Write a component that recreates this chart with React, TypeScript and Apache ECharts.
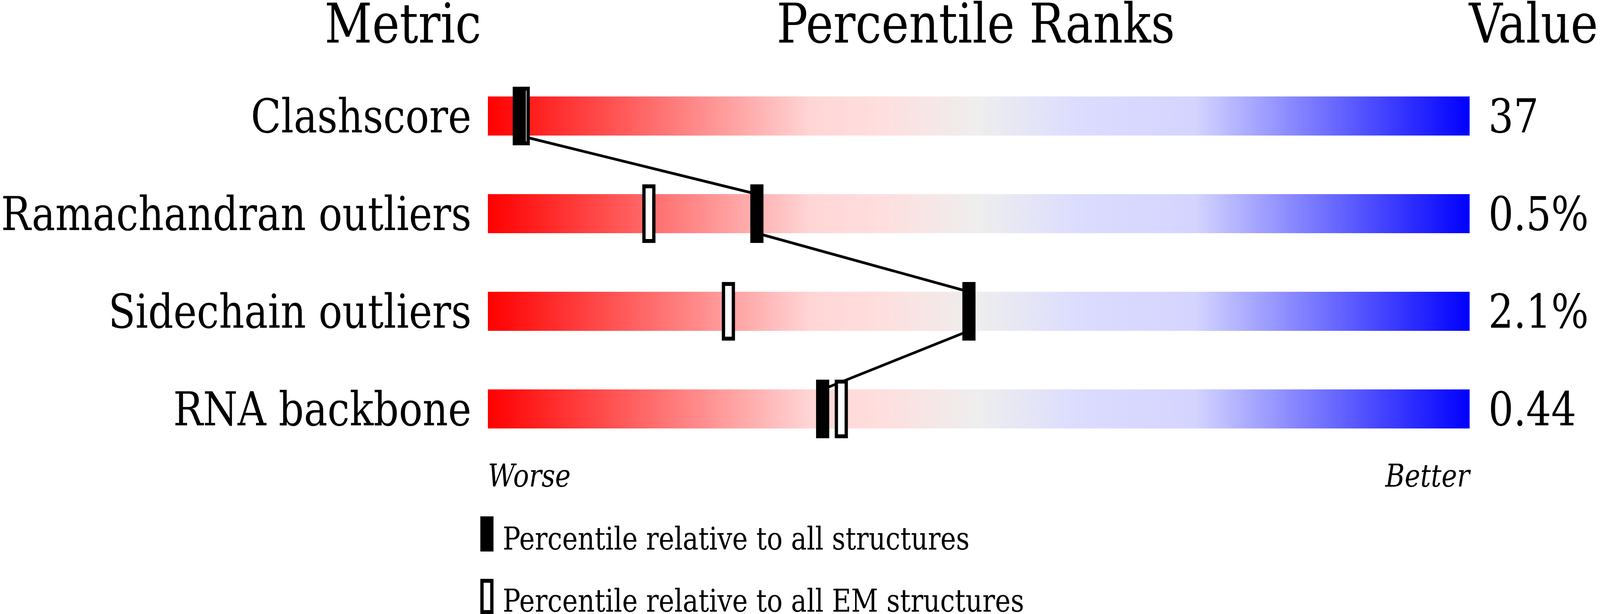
import { useEffect, useRef, useState } from 'react'
import * as echarts from 'echarts'

const metrics = ['Clashscore', 'Ramachandran outliers', 'Sidechain outliers', 'RNA backbone']
const values = ['37', '0.5%', '2.1%', '0.44']
// percentile ranks (0 = worse, 100 = better)
const allPercentiles = [3.2, 27.4, 49.0, 34.1]
const emPercentiles = [3.6, 16.4, 24.5, 36.0]
const legendLabels = ['Percentile relative to all structures', 'Percentile relative to all EM structures']

const FONT = "'DejaVu Serif', serif"

const gradientStops = [
  { offset: 0, color: '#ff0000' },
  { offset: 0.33, color: '#ffd6d6' },
  { offset: 0.4, color: '#ffdede' },
  { offset: 0.5, color: '#eeeeee' },
  { offset: 0.6, color: '#dcdcff' },
  { offset: 0.72, color: '#d4d4ff' },
  { offset: 1, color: '#0000ff' },
]

// the chart is laid out on a 4860 x 1572 canvas and fitted to the window
const BASE_W = 4860
const BASE_H = 1572

export default function App() {
  const chartRef = useRef<HTMLDivElement>(null)
  const [fit, setFit] = useState({ x: window.innerWidth / BASE_W, y: window.innerHeight / BASE_H })

  useEffect(() => {
    const onResize = () => setFit({ x: window.innerWidth / BASE_W, y: window.innerHeight / BASE_H })
    window.addEventListener('resize', onResize)
    return () => window.removeEventListener('resize', onResize)
  }, [])

  useEffect(() => {
    if (!chartRef.current) return
    const chart = echarts.init(chartRef.current, null, { renderer: 'svg' })

    const markerItem = (filled: boolean) => (params: any, api: any) => {
      const c = api.coord([api.value(0), api.value(1)])
      const h = api.size([0, 1])[1] * 0.6
      if (filled) {
        return {
          type: 'rect',
          shape: { x: c[0] - 20, y: c[1] - h / 2, width: 40, height: h },
          style: { fill: '#000' },
        }
      }
      return {
        type: 'rect',
        shape: { x: c[0] - 15, y: c[1] - h / 2 + 5, width: 30, height: h - 10 },
        style: { fill: '#fff', stroke: '#000', lineWidth: 10 },
      }
    }

    const connectors = allPercentiles.slice(0, -1).map((p, i) => [p, i, allPercentiles[i + 1], i + 1])

    const headerStyle = (text: string, align: string) => ({
      text,
      font: `141px ${FONT}`,
      lineHeight: 120,
      fill: '#000',
      textAlign: align,
      textVerticalAlign: 'top',
    })
    const legendStyle = (text: string) => ({
      text,
      font: `80px ${FONT}`,
      fill: '#000',
      textAlign: 'left',
      textVerticalAlign: 'middle',
    })

    const option = {
      animation: false,
      textStyle: { fontFamily: FONT },
      grid: { left: 1464, right: 396, top: 172, bottom: 400 },
      xAxis: {
        type: 'value',
        min: 0,
        max: 100,
        interval: 100,
        splitLine: { show: false },
        axisLine: { show: false },
        axisTick: { show: false },
        axisLabel: {
          formatter: (v: number) => (v === 0 ? 'Worse' : 'Better'),
          fontFamily: FONT,
          fontStyle: 'italic',
          fontSize: 80,
          color: '#000',
          margin: 46,
          verticalAlign: 'middle',
          alignMinLabel: 'left',
          alignMaxLabel: 'right',
        },
      },
      yAxis: [
        {
          type: 'category',
          inverse: true,
          data: metrics,
          axisLine: { show: false },
          axisTick: { show: false },
          axisLabel: {
            fontFamily: FONT,
            fontSize: 120,
            color: '#000',
            margin: 50,
            verticalAlign: 'middle',
            padding: [24, 0, 0, 0],
          },
        },
        {
          type: 'category',
          inverse: true,
          position: 'right',
          data: values,
          axisLine: { show: false },
          axisTick: { show: false },
          axisLabel: {
            fontFamily: FONT,
            fontSize: 120,
            color: '#000',
            margin: 57,
            verticalAlign: 'middle',
            padding: [16, 0, 0, 0],
          },
        },
      ],
      graphic: [
        { type: 'text', x: 1462, y: 0, style: headerStyle('Metric', 'right') },
        { type: 'text', x: 2964, y: 0, style: headerStyle('Percentile Ranks', 'center') },
        { type: 'text', x: 4462, y: 0, style: headerStyle('Value', 'left') },
        { type: 'rect', shape: { x: 1459, y: 1322, width: 40, height: 90 }, style: { fill: '#000' } },
        { type: 'text', x: 1527, y: 1379, style: legendStyle(legendLabels[0]) },
        {
          type: 'rect',
          shape: { x: 1464, y: 1487, width: 30, height: 80 },
          style: { fill: '#fff', stroke: '#000', lineWidth: 10 },
        },
        { type: 'text', x: 1527, y: 1538, style: legendStyle(legendLabels[1]) },
      ],
      series: [
        {
          type: 'custom',
          name: 'slider',
          z: 1,
          data: metrics.map((_, i) => [0, i, 100]),
          renderItem: (params: any, api: any) => {
            const start = api.coord([api.value(0), api.value(1)])
            const end = api.coord([api.value(2), api.value(1)])
            const h = api.size([0, 1])[1] * 0.4
            return {
              type: 'rect',
              shape: { x: start[0], y: start[1] - h / 2, width: end[0] - start[0], height: h },
              style: { fill: new echarts.graphic.LinearGradient(0, 0, 1, 0, gradientStops) },
            }
          },
        },
        {
          type: 'custom',
          name: 'connector',
          z: 2,
          data: connectors,
          renderItem: (params: any, api: any) => {
            const a = api.coord([api.value(0), api.value(1)])
            const b = api.coord([api.value(2), api.value(3)])
            const h = api.size([0, 1])[1] * 0.4
            return {
              type: 'line',
              shape: { x1: a[0], y1: a[1] + h / 2, x2: b[0], y2: b[1] - h / 2 },
              style: { stroke: '#000', lineWidth: 7 },
            }
          },
        },
        {
          type: 'custom',
          name: legendLabels[1],
          z: 3,
          data: emPercentiles.map((p, i) => [p, i]),
          renderItem: markerItem(false),
        },
        {
          type: 'custom',
          name: legendLabels[0],
          z: 4,
          data: allPercentiles.map((p, i) => [p, i]),
          renderItem: markerItem(true),
        },
      ],
    }

    chart.setOption(option)

    return () => {
      chart.dispose()
    }
  }, [])

  return (
    <div
      ref={chartRef}
      style={{
        position: 'fixed',
        left: 0,
        top: 0,
        width: `${BASE_W}px`,
        height: `${BASE_H}px`,
        transform: `scale(${fit.x}, ${fit.y})`,
        transformOrigin: 'left top',
      }}
    />
  )
}
